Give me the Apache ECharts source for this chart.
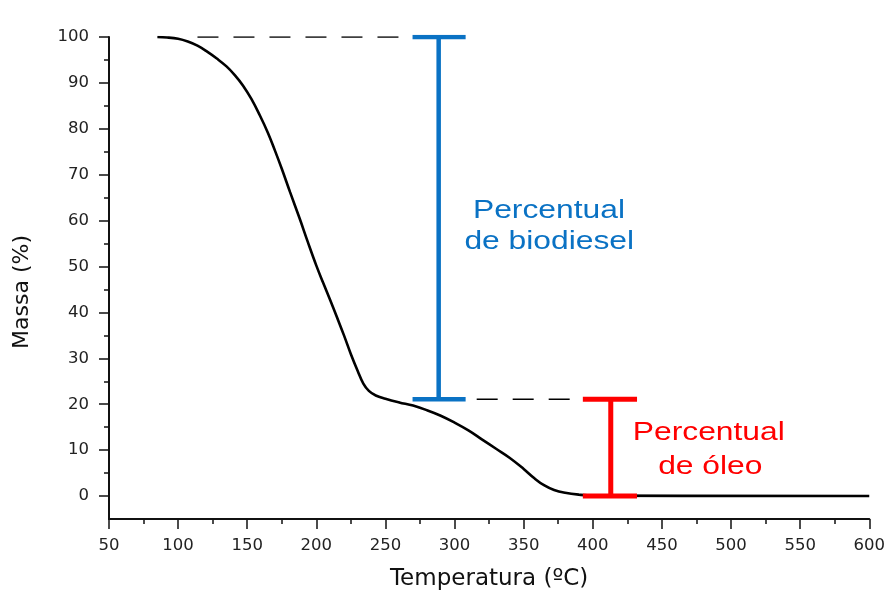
<!DOCTYPE html>
<html>
<head>
<meta charset="utf-8">
<script src="https://cdn.jsdelivr.net/npm/echarts@6/dist/echarts.min.js"></script>
<style>
  html, body { margin: 0; padding: 0; background: #fff; }
  #chart { width: 888px; height: 596px; }
</style>
</head>
<body>
<div id="chart"></div>
<script>
// TGA curve
var tempC = [85, 92, 100, 107, 114, 121, 128, 135, 141, 147, 153, 159, 165, 170, 175, 181, 188, 194, 200,
    205, 210, 215, 220, 225, 230, 234, 238, 243, 250, 260, 270, 280, 290, 300, 310, 320, 330,
    340, 350, 358, 365, 372, 380, 390, 400, 600];
var massPct = [100, 99.9, 99.6, 99.0, 98.1, 96.8, 95.3, 93.6, 91.7, 89.4, 86.5, 83.0, 79.1, 75.3, 71.3, 66.2, 60.4, 55.2, 50.2,
    46.4, 42.7, 38.9, 35.0, 30.9, 27.2, 24.5, 22.9, 21.9, 21.2, 20.4, 19.7, 18.7, 17.5, 16.0, 14.3, 12.3, 10.3,
    8.3, 5.9, 3.8, 2.3, 1.3, 0.7, 0.3, 0.1, 0.0];

var yLabelValues = [0, 10, 20, 30, 40, 50, 60, 70, 80, 90, 100];
var yMinorValues = [5, 15, 25, 35, 45, 55, 65, 75, 85, 95];

// levels and annotation bars (data units)
var topLevel = 100;
var residueLevel = 21.1;
var finalLevel = 0;
var biodieselT = 288.5;
var biodieselCap = [269.6, 308];
var oleoT = 413;
var oleoCap = [392.8, 432];
var dashTop = [114, 269.6];
var dashLow = [316, 392.8];

var biodieselText = ['Percentual', 'de biodiesel'];
var oleoText = ['Percentual', 'de óleo'];

var chart = echarts.init(document.getElementById('chart'));

function seg(p0, p1, color, width, dash) {
    return {
        type: 'line',
        data: [p0, p1],
        symbol: 'none',
        silent: true,
        animation: false,
        lineStyle: { color: color, width: width, type: dash || 'solid', cap: 'butt' }
    };
}

var curve = tempC.map(function (t, i) { return [t, massPct[i]]; });
var blue = '#0a72c4';
var red = '#ff0000';
var axisFont = '"DejaVu Sans", sans-serif';

var option = {
    backgroundColor: '#fff',
    animation: false,
    grid: { left: 109, right: 17, top: 37, bottom: 76 },
    xAxis: {
        type: 'value',
        min: 50,
        max: 600,
        interval: 50,
        name: 'Temperatura (ºC)',
        nameLocation: 'middle',
        nameGap: 49,
        nameTextStyle: { fontFamily: axisFont, fontSize: 23, color: '#111' },
        axisLine: { onZero: false, lineStyle: { color: '#111', width: 2 } },
        axisTick: { length: 10, lineStyle: { color: '#111', width: 1.5 } },
        minorTick: { show: true, splitNumber: 2, length: 5, lineStyle: { color: '#111', width: 1.5 } },
        axisLabel: { margin: 18, fontFamily: axisFont, fontSize: 16.5, color: '#222' },
        splitLine: { show: false }
    },
    yAxis: [{
        type: 'value',
        position: 'left',
        min: -5,
        max: 100,
        name: 'Massa (%)',
        nameLocation: 'middle',
        nameGap: 76,
        nameTextStyle: { fontFamily: axisFont, fontSize: 22, color: '#111', padding: [0, 28, 0, 0] },
        axisLine: { show: true, lineStyle: { color: '#111', width: 2 } },
        axisTick: { customValues: yLabelValues, length: 10, lineStyle: { color: '#111', width: 1.5 } },
        axisLabel: { customValues: yLabelValues, margin: 20, fontFamily: axisFont, fontSize: 16.5, color: '#222' },
        splitLine: { show: false }
    }, {
        type: 'value',
        position: 'left',
        min: -5,
        max: 100,
        axisLine: { show: false },
        axisTick: { customValues: yMinorValues, length: 5, lineStyle: { color: '#111', width: 1.5 } },
        axisLabel: { show: false },
        splitLine: { show: false }
    }],
    series: [
        {
            type: 'line',
            data: curve,
            showSymbol: false,
            symbol: 'none',
            smooth: 0.4,
            lineStyle: { color: '#000', width: 2.6 }
        },
        seg([dashTop[0], topLevel], [dashTop[1], topLevel], '#000', 1.4, [21, 15]),
        seg([dashLow[0], residueLevel], [dashLow[1], residueLevel], '#000', 1.4, [21, 15]),
        seg([biodieselT, residueLevel], [biodieselT, topLevel], blue, 4.5),
        seg([biodieselCap[0], topLevel], [biodieselCap[1], topLevel], blue, 4.5),
        seg([biodieselCap[0], residueLevel], [biodieselCap[1], residueLevel], blue, 4.5),
        seg([oleoT, finalLevel], [oleoT, residueLevel], red, 5),
        seg([oleoCap[0], residueLevel], [oleoCap[1], residueLevel], red, 5),
        seg([oleoCap[0], finalLevel], [oleoCap[1], finalLevel], red, 5)
    ]
};

chart.setOption(option);

// annotation texts, anchored in data coordinates
function label(text, at, color) {
    var p = chart.convertToPixel({ xAxisIndex: 0, yAxisIndex: 0 }, at);
    return {
        type: 'text',
        x: p[0],
        y: p[1],
        scaleX: 1.2,
        silent: true,
        style: {
            text: text,
            fill: color,
            font: '26.5px "Liberation Sans", Arial, sans-serif',
            align: 'center',
            verticalAlign: 'middle',
            textAlign: 'center',
            textVerticalAlign: 'middle'
        }
    };
}

chart.setOption({
    graphic: [
        label(biodieselText[0], [368.3, 62.1], blue),
        label(biodieselText[1], [368.5, 55.4], blue),
        label(oleoText[0], [483.9, 13.7], red),
        label(oleoText[1], [485, 6.5], red)
    ]
});
</script>
</body>
</html>
